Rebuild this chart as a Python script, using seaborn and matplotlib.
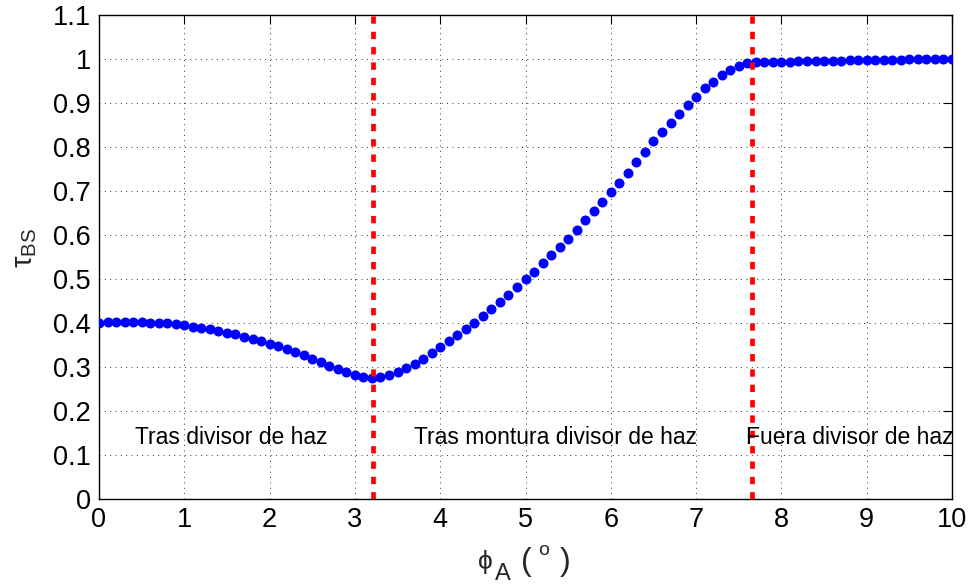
import numpy as np
import pandas as pd
import matplotlib
matplotlib.use("Agg")
import matplotlib.pyplot as plt
import seaborn as sns

# ---- data ----
phi_A = [0.0, 0.1, 0.2, 0.3, 0.4, 0.5, 0.6, 0.7, 0.8, 0.9,
         1.0, 1.1, 1.2, 1.3, 1.4, 1.5, 1.6, 1.7, 1.8, 1.9,
         2.0, 2.1, 2.2, 2.3, 2.4, 2.5, 2.6, 2.7, 2.8, 2.9,
         3.0, 3.1, 3.2, 3.3, 3.4, 3.5, 3.6, 3.7, 3.8, 3.9,
         4.0, 4.1, 4.2, 4.3, 4.4, 4.5, 4.6, 4.7, 4.8, 4.9,
         5.0, 5.1, 5.2, 5.3, 5.4, 5.5, 5.6, 5.7, 5.8, 5.9,
         6.0, 6.1, 6.2, 6.3, 6.4, 6.5, 6.6, 6.7, 6.8, 6.9,
         7.0, 7.1, 7.2, 7.3, 7.4, 7.5, 7.6, 7.7, 7.8, 7.9,
         8.0, 8.1, 8.2, 8.3, 8.4, 8.5, 8.6, 8.7, 8.8, 8.9,
         9.0, 9.1, 9.2, 9.3, 9.4, 9.5, 9.6, 9.7, 9.8, 9.9,
         10.0]
tau_BS = [0.401, 0.402, 0.403, 0.403, 0.403, 0.402, 0.401, 0.400, 0.399, 0.397,
          0.395, 0.392, 0.389, 0.386, 0.382, 0.378, 0.374, 0.369, 0.364, 0.359,
          0.353, 0.347, 0.341, 0.334, 0.327, 0.319, 0.311, 0.303, 0.295, 0.288,
          0.282, 0.277, 0.276, 0.277, 0.282, 0.289, 0.298, 0.307, 0.318, 0.331,
          0.346, 0.359, 0.372, 0.386, 0.400, 0.415, 0.432, 0.447, 0.464, 0.481,
          0.500, 0.517, 0.536, 0.554, 0.572, 0.591, 0.612, 0.633, 0.655, 0.675,
          0.697, 0.718, 0.740, 0.765, 0.788, 0.813, 0.834, 0.855, 0.875, 0.895,
          0.913, 0.933, 0.948, 0.964, 0.975, 0.985, 0.991, 0.993, 0.993, 0.994,
          0.994, 0.994, 0.995, 0.995, 0.995, 0.996, 0.996, 0.996, 0.997, 0.997,
          0.997, 0.998, 0.998, 0.998, 0.998, 0.999, 0.999, 0.999, 0.999, 1.000,
          1.001]
boundaries = [3.21, 7.65]
region_labels = ["Tras divisor de haz", "Tras montura divisor de haz", "Fuera divisor de haz"]
region_label_x = [1.55, 5.35, 8.80]
region_label_y = [0.125, 0.125, 0.125]
x_ticks = [0, 1, 2, 3, 4, 5, 6, 7, 8, 9, 10]
x_tick_labels = ["0", "1", "2", "3", "4", "5", "6", "7", "8", "9", "10"]
y_ticks = [0, 0.1, 0.2, 0.3, 0.4, 0.5, 0.6, 0.7, 0.8, 0.9, 1.0, 1.1]
y_tick_labels = ["0", "0.1", "0.2", "0.3", "0.4", "0.5", "0.6", "0.7", "0.8", "0.9", "1", "1.1"]

df = pd.DataFrame({"phi": phi_A, "tau": tau_BS})

sns.set_theme(style="white")
plt.rcParams["font.family"] = ["Liberation Sans", "DejaVu Sans"]
plt.rcParams["mathtext.default"] = "regular"

W, H = 973, 587
fig = plt.figure(figsize=(W / 100, H / 100), dpi=100)
fig.patch.set_facecolor("white")
left_px, right_px, top_px, bot_px = 99, 952, 15, 499
ax = fig.add_axes([left_px / W, 1 - bot_px / H, (right_px - left_px) / W, (bot_px - top_px) / H])
ax.set_facecolor("white")

sns.scatterplot(data=df, x="phi", y="tau", ax=ax, color="#0000ff", s=52,
                linewidth=0, zorder=3, legend=False)

for b in boundaries:
    ax.axvline(b, color="#ff0000", lw=3.4, linestyle=(0, (1.55, 1.7)), zorder=4)

for lab, lx, ly in zip(region_labels, region_label_x, region_label_y):
    ax.text(lx, ly, lab, ha="center", va="baseline", fontsize=16.5, color="black", zorder=5)

ax.set_xlim(0, 10)
ax.set_ylim(0, 1.1)
ax.set_xticks(x_ticks)
ax.set_xticklabels(x_tick_labels)
ax.set_yticks(y_ticks)
ax.set_yticklabels(y_tick_labels)
ax.tick_params(direction="in", length=6.5, width=0.8, top=True, right=True,
               labelsize=19.5, pad=6, colors="black")
ax.grid(True, color="#333333", lw=0.7, linestyle=(0, (1, 4.5)))
for sp in ax.spines.values():
    sp.set_visible(True)
    sp.set_color("black")
    sp.set_linewidth(1.0)
ax.set_xlabel("")
ax.set_ylabel(r"$\mathregular{τ_{BS}}$", fontsize=21, rotation=90)
ax.yaxis.label.set_va("center")
ax.yaxis.label.set_ha("center")
ax.yaxis.set_label_coords((25 - left_px) / (right_px - left_px), (bot_px - 248) / (bot_px - top_px))


def ftxt(xp, yp, s, **kw):
    fig.text(xp / W, 1 - yp / H, s, **kw)


# x label: phi_A ( o )
ftxt(478, 569, "ϕ", fontsize=19, ha="left", va="baseline",
     family=["Liberation Sans", "DejaVu Sans"])
ftxt(495, 580, "A", fontsize=17, ha="left", va="baseline")
ftxt(526, 570, "(", fontsize=23, ha="center", va="baseline")
ftxt(543.5, 555, "o", fontsize=14, ha="center", va="baseline")
ftxt(565, 570, ")", fontsize=23, ha="center", va="baseline")

fig.savefig("out.png", dpi=100)
